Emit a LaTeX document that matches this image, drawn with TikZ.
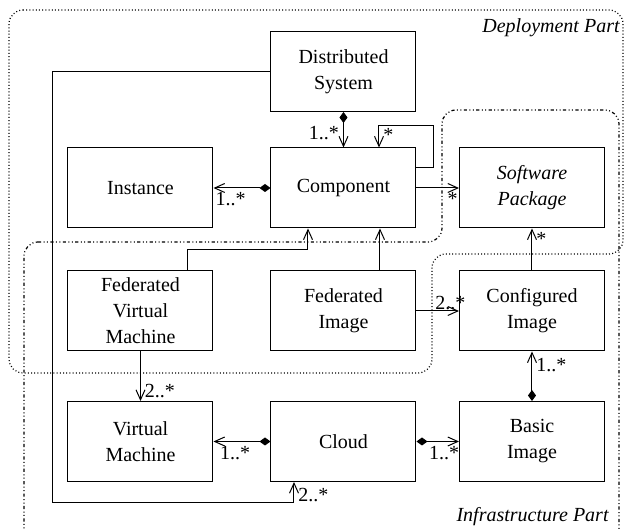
\documentclass[tikz,border=0pt]{standalone}
\usepackage{fontspec}
\setmainfont{Liberation Serif}
\usetikzlibrary{arrows.meta}
\tikzset{
  box/.style={draw, line width=0.5pt, minimum width=72.5pt, minimum height=40pt,
    inner sep=1pt, align=center, font=\fontsize{10}{13}\selectfont},
  assoc/.style={line width=0.5pt, -{Straight Barb[length=5pt,width=4.5pt]}},
  comp/.style={line width=0.5pt,
    {Diamond[length=5.5pt,width=4pt]}-{Straight Barb[length=5pt,width=4.5pt]}},
  mult/.style={font=\fontsize{10}{12}\selectfont, inner sep=2pt},
  part/.style={font=\fontsize{10}{12}\selectfont\itshape, inner sep=0pt},
  deploy/.style={line width=0.6pt, dash pattern=on 0.5pt off 1.1pt, rounded corners=7pt},
  infra/.style={line width=0.6pt,
    dash pattern=on 1.6pt off 1.2pt on 0.5pt off 1.2pt on 0.5pt off 1.2pt, rounded corners=7pt},
}
\begin{document}
\begin{tikzpicture}[x=0.5pt, y=-0.5pt]
      \useasboundingbox (0,0) rectangle (629,529);
      \draw[deploy] (9,10) -- (623,10) -- (623,254) -- (432,254) -- (432,373) -- (9,373) -- cycle;
      \draw[infra] (24,242) -- (442,242) -- (442,110) -- (619,110) -- (619,545) -- (24,545) -- cycle;
      \node[part, anchor=base east] (dlabel) at (620,33) {Deployment Part};
      \node[part, anchor=base east] (ilabel) at (609,522) {Infrastructure Part};

      \node[box] (dist) at (343.5,71.5) {Distributed\\System};
      \node[box] (inst) at (140.5,188) {Instance};
      \node[box] (comp) at (343.5,188) {Component};
      \node[box, font=\fontsize{10}{13}\selectfont\itshape] (sp) at (532,188) {Software\\Package};
      \node[box] (fvm) at (140.5,311) {Federated\\Virtual\\Machine};
      \node[box] (fi) at (343.5,311) {Federated\\Image};
      \node[box] (conf) at (532,311) {Configured\\Image};
      \node[box] (vm) at (140.5,441.5) {Virtual\\Machine};
      \node[box] (cloud) at (343.5,441.5) {Cloud};
      \node[box] (basic) at (532,441.5) {Basic\\Image};
      \coordinate (turn) at (53,503);

      \draw[comp] (dist) to node[mult, left, pos=0.6] {1..*} (comp);
      \draw[assoc] ([yshift=-10pt]comp.north east) -- ++(8.5pt,0)
        |- ([xshift=17.75pt,yshift=11pt]comp.north)
        -- node[mult, right, pos=0.45] {*} ([xshift=17.75pt]comp.north);
      \draw[comp] (comp) to node[mult, below, pos=0.7] {1..*} (inst);
      \draw[assoc] (comp) to node[mult, below, pos=0.85] {*} (sp);
      \draw[assoc] (conf) to node[mult, right, pos=0.75] {*} (sp);
      \draw[assoc] ([xshift=23.75pt]fvm.north) |- ([xshift=-17.75pt,yshift=-10.5pt]comp.south)
        -- ([xshift=-17.75pt]comp.south);
      \draw[assoc] ([xshift=18.25pt]fi.north) -- ([xshift=18.25pt]comp.south);
      \draw[assoc] (fi) to node[mult, anchor=south east, pos=1, xshift=4pt, inner sep=0.5pt] {2..*} (conf);
      \draw[assoc] (fvm) to node[mult, right, pos=0.8] {2..*} (vm);
      \draw[comp] (basic) to node[mult, right, pos=0.73] {1..*} (conf);
      \draw[comp] (cloud) to node[mult, below, pos=0.62] {1..*} (vm);
      \draw[comp] (cloud) to node[mult, below, pos=0.65] {1..*} (basic);
      \draw[assoc] (dist.west) -| (turn) -| node[mult, right, pos=0.68] {2..*} ([xshift=-24.75pt]cloud.south);
    \end{tikzpicture}
\end{document}
